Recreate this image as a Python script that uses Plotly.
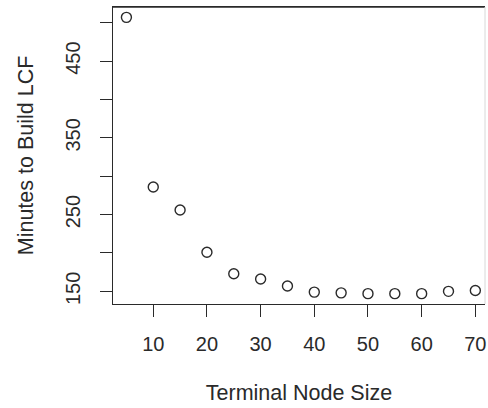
import plotly.graph_objects as go

node_size = [5, 10, 15, 20, 25, 30, 35, 40, 45, 50, 55, 60, 65, 70]
minutes = [507, 286, 256, 201, 173, 166, 157, 149, 148, 147, 147, 147, 150, 151]

x_ticks = [10, 20, 30, 40, 50, 60, 70]
y_ticks = [150, 200, 250, 300, 350, 400, 450, 500]
y_tick_text = ["150", "", "250", "", "350", "", "450", ""]

ink = "#2a2a2a"
fam = "Liberation Sans, Arial, sans-serif"
font = dict(family=fam, size=20, color=ink)

fig = go.Figure(go.Scatter(
    x=node_size, y=minutes, mode="markers",
    marker=dict(symbol="circle-open", size=10, color=ink, line=dict(width=1.4, color=ink)),
))

fig.update_layout(
    width=488, height=408,
    margin=dict(l=113, r=3, t=7, b=104),
    paper_bgcolor="white", plot_bgcolor="white",
    showlegend=False, font=font,
)
fig.update_xaxes(
    range=[2.5, 71.8], tickvals=x_ticks, ticks="outside", ticklen=12,
    tickcolor=ink, tickwidth=1.2, showgrid=False, zeroline=False,
    showline=True, linecolor=ink, linewidth=1.2, mirror=True,
    ticklabelstandoff=10, tickfont=font,
    title=dict(text="Terminal Node Size", font=dict(family=fam, size=21.5, color=ink), standoff=30),
)
fig.update_yaxes(
    range=[133.5, 520.5], tickvals=y_ticks, ticktext=y_tick_text, ticks="outside", ticklen=12,
    tickcolor=ink, tickwidth=1.2, showgrid=False, zeroline=False,
    showline=True, linecolor=ink, linewidth=1.2, mirror=False,
    tickangle=-90, ticklabelstandoff=12, tickfont=font,
    title=dict(text="Minutes to Build LCF", font=dict(family=fam, size=21.5, color=ink), standoff=22),
)
fig.add_shape(type="line", xref="paper", yref="paper", x0=0, x1=1, y0=1, y1=1,
              line=dict(color=ink, width=1.6), layer="above")
fig.add_shape(type="line", xref="paper", yref="paper", x0=1, x1=1, y0=0, y1=1,
              line=dict(color="#d8d8d8", width=1))

fig.write_html("out.html", config={"displayModeBar": False},
               post_script="document.body.style.margin='0';document.body.style.overflow='hidden';")
